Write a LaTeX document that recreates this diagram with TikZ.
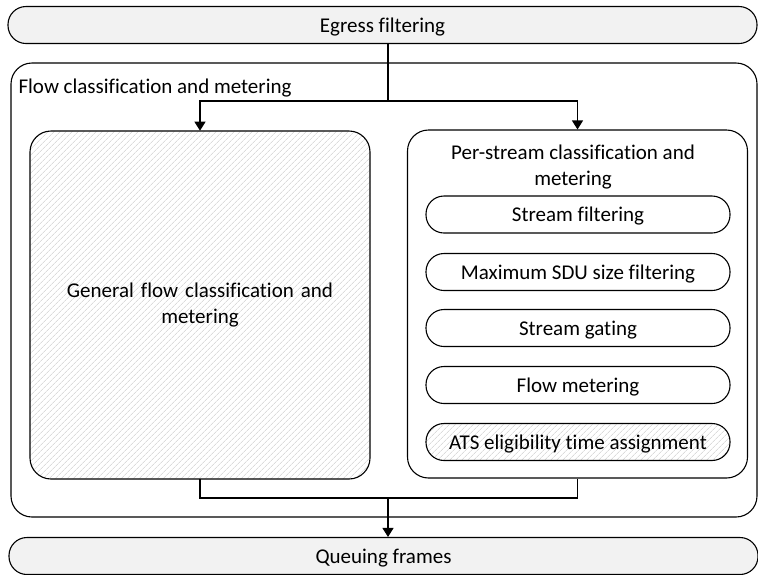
\documentclass[tikz,border=0pt]{standalone}
\usepackage{fontspec}
\setmainfont{Carlito}[Ligatures={NoCommon}]
\usetikzlibrary{arrows.meta,positioning,patterns.meta}

\begin{document}
\begin{tikzpicture}[x=1pt,y=-1pt,line width=1.1pt,
    font=\fontsize{21}{26}\selectfont,
    bar/.style={draw,rounded corners=18pt,fill=black!5,minimum width=749pt,minimum height=37pt,inner sep=0pt,text depth=0pt},
    bigbox/.style={draw,rounded corners=21pt,minimum width=340pt,minimum height=348pt,inner sep=0pt},
    pill/.style={draw,rounded corners=18pt,minimum width=304pt,minimum height=37pt,inner sep=0pt,text depth=0pt},
    hatch/.style={pattern={Lines[angle=45,distance=4pt,line width=0.6pt]},pattern color=black!22},
    arr/.style={-{Triangle[length=9pt,width=11pt]}}]
    \useasboundingbox (0,0) rectangle (758,574);

    \node[bar] (egress) at (382.5,25) {Egress filtering};
    \node[draw,rounded corners=21pt,minimum width=746pt,minimum height=454pt,inner sep=0pt] (flow) at (384,290) {};
    \node[anchor=west,inner sep=0pt] (flowlabel) at (18,88) {Flow classification and metering};

    \node[bigbox,hatch,align=center,text width=300pt] (general) at (200,305) {General flow classification and\\metering};
    \node[bigbox] (perstream) at (577.5,304) {};
    \node[align=center,inner sep=0pt] (pstitle) at (573,167) {Per-stream classification and\\metering};

    \node[pill] (sfilter) at (578,214.5) {Stream filtering};
    \node[pill] (sdu) at (578,272) {Maximum SDU size filtering};
    \node[pill] (gating) at (578,328) {Stream gating};
    \node[pill] (meter) at (578,385) {Flow metering};
    \node[pill,hatch] (ats) at (578,442) {ATS eligibility time assignment};

    \node[bar] (queuing) at (383.5,556) {Queuing frames};

    \coordinate (split) at (388,101);
    \coordinate (join) at (388,498);
    \draw (egress.south -| split) -- (split);
    \draw[arr] (split) -| (general);
    \draw[arr] (split) -| (perstream);
    \draw (general) |- (join) -| (perstream);
    \draw[arr] (join) -- (join |- queuing.north);
\end{tikzpicture}
\end{document}
